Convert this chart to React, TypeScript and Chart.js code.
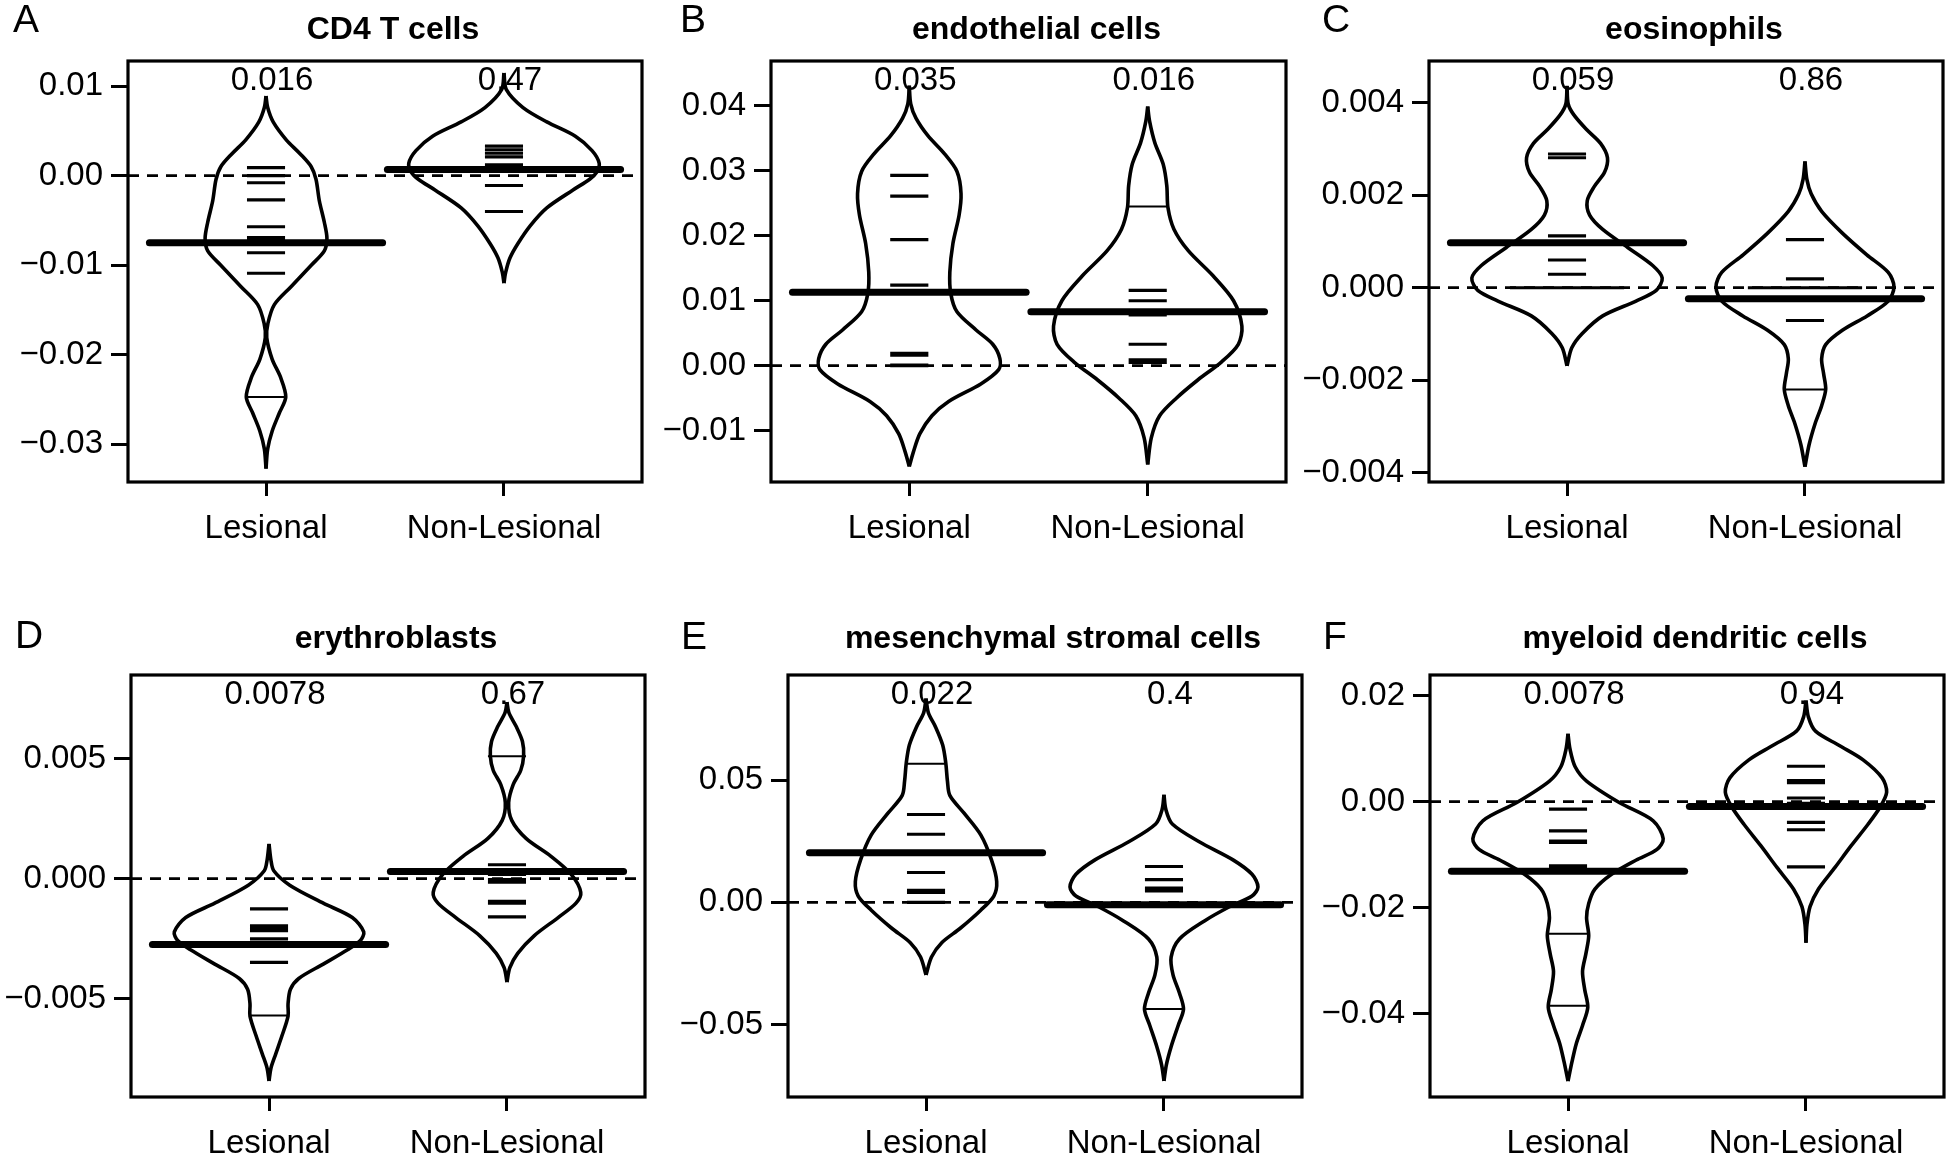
import React, { useEffect, useRef } from 'react';
import { Chart, registerables } from 'chart.js';

Chart.register(...registerables);

const FONT = "'Liberation Sans', Arial, Helvetica, sans-serif";
const groups = ['Lesional', 'Non-Lesional'];
const xRange = [0.42, 2.58];

// ---------- A: CD4 T cells ----------
const cd4Title = 'CD4 T cells';
const cd4P = ['0.016', '0.47'];
const cd4Means = [-0.0075, 0.0007];
const cd4Range = [-0.0342, 0.0128];
const cd4Ticks = [-0.03, -0.02, -0.01, 0, 0.01];
const cd4TickLabels = ['\u22120.03', '\u22120.02', '\u22120.01', '0.00', '0.01'];
const cd4LesObs = [0.0009, 0.0, -0.0008, -0.0027, -0.0057, -0.0069, -0.0072, -0.0086, -0.0109];
const cd4LesThin = [-0.0247];
const cd4NonObs = [0.0033, 0.0029, 0.0025, 0.0021, 0.0012, 0.001, -0.0011, -0.004];
const cd4NonThin: number[] = [];
const cd4LesBean = [[-0.0327, 0], [-0.0305, 0.007], [-0.0285, 0.026], [-0.0265, 0.056], [-0.0247, 0.083], [-0.0225, 0.061], [-0.0205, 0.026], [-0.0181, 0.003], [-0.0165, 0.008], [-0.0144, 0.035], [-0.0124, 0.105], [-0.01, 0.19], [-0.0084, 0.245], [-0.007, 0.256], [-0.0052, 0.245], [-0.0028, 0.224], [-0.0004, 0.21], [0.001, 0.19], [0.0024, 0.145], [0.004, 0.085], [0.006, 0.03], [0.0076, 0.007], [0.0089, 0]];
const cd4NonBean = [[-0.012, 0], [-0.0108, 0.007], [-0.0092, 0.025], [-0.0076, 0.058], [-0.0056, 0.11], [-0.0036, 0.18], [-0.0016, 0.29], [-0.0004, 0.36], [0.0004, 0.39], [0.0014, 0.4], [0.0028, 0.37], [0.0044, 0.3], [0.006, 0.18], [0.0076, 0.08], [0.0096, 0.01], [0.01145, 0]];

// ---------- B: endothelial cells ----------
const endoTitle = 'endothelial cells';
const endoP = ['0.035', '0.016'];
const endoMeans = [0.0113, 0.0083];
const endoRange = [-0.0179, 0.0469];
const endoTicks = [-0.01, 0, 0.01, 0.02, 0.03, 0.04];
const endoTickLabels = ['\u22120.01', '0.00', '0.01', '0.02', '0.03', '0.04'];
const endoLesObs = [0.0293, 0.0261, 0.0194, 0.0124, 0.0019, 0.0016, 0.0001, 0.0];
const endoLesThin: number[] = [];
const endoNonObs = [0.0116, 0.01, 0.0081, 0.0078, 0.0033, 0.0009, 0.0005];
const endoNonThin = [0.0245];
const endoLesBean = [[-0.0155, 0], [-0.0133, 0.017], [-0.0105, 0.044], [-0.0077, 0.095], [-0.0055, 0.165], [-0.0028, 0.3], [-0.0006, 0.375], [0.0011, 0.38], [0.0033, 0.35], [0.0055, 0.28], [0.0083, 0.2], [0.0111, 0.174], [0.0144, 0.17], [0.0188, 0.183], [0.0232, 0.209], [0.0265, 0.217], [0.0299, 0.2], [0.0326, 0.148], [0.0354, 0.078], [0.0381, 0.028], [0.0403, 0.006], [0.0431, 0]];
const endoNonBean = [[-0.0152, 0], [-0.0111, 0.015], [-0.0077, 0.05], [-0.005, 0.12], [-0.0022, 0.21], [0.0006, 0.31], [0.0033, 0.38], [0.0061, 0.395], [0.01, 0.36], [0.0138, 0.275], [0.0177, 0.17], [0.021, 0.11], [0.0243, 0.085], [0.0277, 0.08], [0.031, 0.065], [0.0343, 0.03], [0.0376, 0.008], [0.0399, 0]];

// ---------- C: eosinophils ----------
const eosTitle = 'eosinophils';
const eosP = ['0.059', '0.86'];
const eosMeans = [0.00097, -0.00024];
const eosRange = [-0.0042, 0.0049];
const eosTicks = [-0.004, -0.002, 0, 0.002, 0.004];
const eosTickLabels = ['\u22120.004', '\u22120.002', '0.000', '0.002', '0.004'];
const eosLesObs = [0.00289, 0.00281, 0.00112, 0.0006, 0.00029, 0, 0, 0];
const eosLesThin: number[] = [];
const eosNonObs = [0.00104, 0.00019, 0, 0, 0, -0.00071];
const eosNonThin = [-0.0022];
const eosLesBean = [[-0.00169, 0], [-0.0013, 0.02], [-0.00099, 0.064], [-0.00061, 0.15], [-0.00029, 0.29], [-0.00006, 0.375], [0.00021, 0.4], [0.00048, 0.36], [0.00087, 0.255], [0.00126, 0.15], [0.00157, 0.095], [0.00188, 0.085], [0.00219, 0.115], [0.0025, 0.158], [0.00281, 0.17], [0.00312, 0.141], [0.00343, 0.08], [0.00374, 0.028], [0.00397, 0.005], [0.00436, 0]];
const eosNonBean = [[-0.00387, 0], [-0.0034, 0.017], [-0.00293, 0.043], [-0.00255, 0.07], [-0.0022, 0.087], [-0.00185, 0.078], [-0.00154, 0.07], [-0.00123, 0.087], [-0.00092, 0.157], [-0.00061, 0.261], [-0.00029, 0.35], [0.00002, 0.374], [0.00033, 0.35], [0.00071, 0.26], [0.00118, 0.157], [0.00165, 0.07], [0.00203, 0.026], [0.00234, 0.008], [0.00273, 0]];

// ---------- D: erythroblasts ----------
const eryTitle = 'erythroblasts';
const eryP = ['0.0078', '0.67'];
const eryMeans = [-0.00274, 0.0003];
const eryRange = [-0.0091, 0.00849];
const eryTicks = [-0.005, 0, 0.005];
const eryTickLabels = ['\u22120.005', '0.000', '0.005'];
const eryLesObs = [-0.00126, -0.00196, -0.00207, -0.00217, -0.00251, -0.00349];
const eryLesThin = [-0.0057];
const eryNonObs = [0.00058, 0.00018, -0.00004, -0.00015, -0.00094, -0.00102, -0.00159];
const eryNonThin = [0.0051];
const eryLesBean = [[-0.00843, 0], [-0.0079, 0.008], [-0.00731, 0.028], [-0.00656, 0.054], [-0.00573, 0.08], [-0.00521, 0.08], [-0.00461, 0.09], [-0.00416, 0.125], [-0.00356, 0.228], [-0.00296, 0.33], [-0.00259, 0.383], [-0.00222, 0.398], [-0.00162, 0.35], [-0.00102, 0.228], [-0.00027, 0.087], [0.00033, 0.02], [0.00078, 0.008], [0.00145, 0]];
const eryNonBean = [[-0.00431, 0], [-0.00371, 0.012], [-0.00311, 0.045], [-0.00237, 0.115], [-0.00162, 0.215], [-0.00102, 0.29], [-0.00057, 0.31], [0.00018, 0.27], [0.00093, 0.185], [0.00168, 0.08], [0.00243, 0.02], [0.00317, 0.007], [0.00392, 0.026], [0.00452, 0.058], [0.00512, 0.07], [0.00572, 0.065], [0.00632, 0.04], [0.00692, 0.008], [0.00736, 0]];

// ---------- E: mesenchymal stromal cells ----------
const mscTitle = 'mesenchymal stromal cells';
const mscP = ['0.022', '0.4'];
const mscMeans = [0.0203, -0.001];
const mscRange = [-0.0797, 0.0931];
const mscTicks = [-0.05, 0, 0.05];
const mscTickLabels = ['\u22120.05', '0.00', '0.05'];
const mscLesObs = [0.036, 0.0279, 0.0122, 0.0049, 0.0041, 0.0];
const mscLesThin = [0.0568];
const mscNonObs = [0.0147, 0.0093, 0.0059, 0.0047];
const mscNonThin = [-0.0437];
const mscLesBean = [[-0.0297, 0], [-0.0224, 0.023], [-0.0165, 0.066], [-0.0106, 0.144], [-0.0032, 0.23], [0.0026, 0.285], [0.0085, 0.297], [0.0174, 0.275], [0.0276, 0.23], [0.0365, 0.16], [0.0438, 0.1], [0.0497, 0.09], [0.0571, 0.083], [0.0644, 0.07], [0.0718, 0.04], [0.0776, 0.01], [0.0835, 0]];
const mscNonBean = [[-0.0731, 0], [-0.0665, 0.01], [-0.0591, 0.03], [-0.0503, 0.06], [-0.0437, 0.082], [-0.0371, 0.065], [-0.0297, 0.038], [-0.0224, 0.03], [-0.015, 0.065], [-0.0076, 0.17], [-0.0018, 0.275], [0.0026, 0.37], [0.0063, 0.395], [0.0115, 0.37], [0.0174, 0.29], [0.0247, 0.15], [0.0321, 0.035], [0.038, 0.008], [0.0441, 0]];

// ---------- F: myeloid dendritic cells ----------
const mdcTitle = 'myeloid dendritic cells';
const mdcP = ['0.0078', '0.94'];
const mdcMeans = [-0.0131, -0.0009];
const mdcRange = [-0.0557, 0.0239];
const mdcTicks = [-0.04, -0.02, 0, 0.02];
const mdcTickLabels = ['\u22120.04', '\u22120.02', '0.00', '0.02'];
const mdcLesObs = [-0.0014, -0.0055, -0.0074, -0.0077, -0.0121, -0.0124];
const mdcLesThin = [-0.0249, -0.0385];
const mdcNonObs = [0.0067, 0.004, 0.0036, 0.0007, -0.0003, -0.0039, -0.0053, -0.0123];
const mdcNonThin: number[] = [];
const mdcLesBean = [[-0.0527, 0], [-0.049, 0.017], [-0.0456, 0.035], [-0.0422, 0.061], [-0.0388, 0.083], [-0.0354, 0.07], [-0.032, 0.061], [-0.0287, 0.075], [-0.0253, 0.087], [-0.0219, 0.078], [-0.0192, 0.087], [-0.0165, 0.113], [-0.0137, 0.183], [-0.011, 0.287], [-0.009, 0.374], [-0.007, 0.4], [-0.0036, 0.358], [-0.0002, 0.217], [0.0039, 0.078], [0.0066, 0.03], [0.01, 0.008], [0.0128, 0]];
const mdcNonBean = [[-0.0266, 0], [-0.0232, 0.004], [-0.0198, 0.017], [-0.0165, 0.052], [-0.0124, 0.122], [-0.0083, 0.19], [-0.0043, 0.26], [-0.0009, 0.313], [0.0018, 0.339], [0.0045, 0.32], [0.0079, 0.24], [0.0106, 0.14], [0.0133, 0.04], [0.016, 0.01], [0.0191, 0]];

const panels = [
  { letter: 'A', title: cd4Title, p: cd4P, means: cd4Means, range: cd4Range, ticks: cd4Ticks, tickLabels: cd4TickLabels, beans: [cd4LesBean, cd4NonBean], obs: [cd4LesObs, cd4NonObs], thin: [cd4LesThin, cd4NonThin] },
  { letter: 'B', title: endoTitle, p: endoP, means: endoMeans, range: endoRange, ticks: endoTicks, tickLabels: endoTickLabels, beans: [endoLesBean, endoNonBean], obs: [endoLesObs, endoNonObs], thin: [endoLesThin, endoNonThin] },
  { letter: 'C', title: eosTitle, p: eosP, means: eosMeans, range: eosRange, ticks: eosTicks, tickLabels: eosTickLabels, beans: [eosLesBean, eosNonBean], obs: [eosLesObs, eosNonObs], thin: [eosLesThin, eosNonThin] },
  { letter: 'D', title: eryTitle, p: eryP, means: eryMeans, range: eryRange, ticks: eryTicks, tickLabels: eryTickLabels, beans: [eryLesBean, eryNonBean], obs: [eryLesObs, eryNonObs], thin: [eryLesThin, eryNonThin] },
  { letter: 'E', title: mscTitle, p: mscP, means: mscMeans, range: mscRange, ticks: mscTicks, tickLabels: mscTickLabels, beans: [mscLesBean, mscNonBean], obs: [mscLesObs, mscNonObs], thin: [mscLesThin, mscNonThin] },
  { letter: 'F', title: mdcTitle, p: mdcP, means: mdcMeans, range: mdcRange, ticks: mdcTicks, tickLabels: mdcTickLabels, beans: [mdcLesBean, mdcNonBean], obs: [mdcLesObs, mdcNonObs], thin: [mdcLesThin, mdcNonThin] },
];

// layout (page pixels): canvas rect, plot box, letter & title positions
const layouts = [
  { cx: 0, cy: 0, cw: 650, ch: 580, l: 128, t: 61, r: 642, b: 482, lx: 13, ly: 21, ty: 30 },
  { cx: 650, cy: 0, cw: 650, ch: 580, l: 771, t: 61, r: 1286, b: 482, lx: 680, ly: 21, ty: 30 },
  { cx: 1296, cy: 0, cw: 650, ch: 580, l: 1429, t: 61, r: 1943, b: 482, lx: 1322, ly: 21, ty: 30 },
  { cx: 0, cy: 580, cw: 650, ch: 573, l: 131, t: 675, r: 645, b: 1097, lx: 15, ly: 637, ty: 639 },
  { cx: 650, cy: 580, cw: 655, ch: 573, l: 788, t: 675, r: 1302, b: 1097, lx: 681, ly: 638, ty: 639 },
  { cx: 1296, cy: 580, cw: 650, ch: 573, l: 1430, t: 675, r: 1944, b: 1097, lx: 1323, ly: 638, ty: 639 },
];

const BLACK = '#000';

function lineSegments(values: number[], center: number) {
  const counts = new Map<number, number>();
  values.forEach((v) => counts.set(v, (counts.get(v) || 0) + 1));
  const pts: any[] = [];
  counts.forEach((n, v) => {
    const h = Math.min(0.08 * n, 0.48);
    pts.push({ x: center - h, y: v }, { x: center + h, y: v }, { x: center, y: null });
  });
  return pts;
}

function buildDatasets(d: any) {
  const base = { borderColor: BLACK, pointRadius: 0, pointHoverRadius: 0, fill: false, spanGaps: false };
  const ds: any[] = [];
  ds.push({ ...base, data: [{ x: xRange[0], y: 0 }, { x: xRange[1], y: 0 }], borderWidth: 2.8, borderDash: [11, 8], tension: 0, order: 5 });
  d.beans.forEach((bean: number[][], i: number) => {
    const c = i + 1;
    [-1, 1].forEach((side) => {
      ds.push({ ...base, data: bean.map(([y, w]) => ({ x: c + side * w, y })), borderWidth: 3.6, tension: 0.3, borderJoinStyle: 'round', order: 4 });
    });
    ds.push({ ...base, data: lineSegments(d.obs[i], c), borderWidth: 3.1, tension: 0, order: 3 });
    if (d.thin[i].length) {
      ds.push({ ...base, data: lineSegments(d.thin[i], c), borderWidth: 2, tension: 0, order: 3 });
    }
    ds.push({ ...base, data: [{ x: c - 0.49, y: d.means[i] }, { x: c + 0.49, y: d.means[i] }], borderWidth: 7, borderCapStyle: 'round', tension: 0, order: 2 });
  });
  return ds;
}

function Panel({ d, lay }: { d: any; lay: any }) {
  const ref = useRef<HTMLCanvasElement | null>(null);
  useEffect(() => {
    if (!ref.current) return;
    const deco = {
      id: 'deco' + d.letter,
      afterDraw(chart: any) {
        const { ctx, chartArea: a, scales } = chart;
        ctx.save();
        ctx.strokeStyle = BLACK;
        ctx.lineWidth = 3.2;
        ctx.strokeRect(a.left, a.top, a.right - a.left, a.bottom - a.top);
        ctx.fillStyle = BLACK;
        ctx.textAlign = 'center';
        ctx.textBaseline = 'middle';
        ctx.font = `33px ${FONT}`;
        d.p.forEach((txt: string, i: number) => {
          ctx.fillText(txt, scales.x.getPixelForValue(i + 1) + 6, a.top + 20);
        });
        ctx.font = `bold 32px ${FONT}`;
        ctx.fillText(d.title, (a.left + a.right) / 2 + 8, lay.ty - lay.cy);
        ctx.textAlign = 'left';
        ctx.font = `39px ${FONT}`;
        ctx.fillText(d.letter, lay.lx - lay.cx, lay.ly - lay.cy);
        ctx.restore();
      },
    };
    const tickFont = { family: FONT, size: 33 };
    const chart = new Chart(ref.current, {
      type: 'line',
      data: { datasets: buildDatasets(d) },
      options: {
        animation: false,
        responsive: false,
        maintainAspectRatio: false,
        devicePixelRatio: 1,
        events: [],
        layout: { autoPadding: false, padding: { top: lay.t - lay.cy, right: lay.cx + lay.cw - lay.r, left: 0, bottom: 0 } },
        plugins: { legend: { display: false }, tooltip: { enabled: false }, title: { display: false } },
        scales: {
          x: {
            type: 'linear',
            min: xRange[0],
            max: xRange[1],
            afterBuildTicks: (s: any) => { s.ticks = [{ value: 1 }, { value: 2 }]; },
            afterFit: (s: any) => { s.height = lay.cy + lay.ch - lay.b; },
            ticks: { callback: (v: number) => groups[Math.round(v) - 1], font: tickFont, color: BLACK, padding: 13, autoSkip: false, maxRotation: 0, minRotation: 0 },
            grid: { display: true, drawOnChartArea: false, drawTicks: true, tickLength: 14, tickWidth: 3, tickColor: BLACK },
            border: { display: false },
          },
          y: {
            type: 'linear',
            position: 'left',
            min: d.range[0],
            max: d.range[1],
            afterBuildTicks: (s: any) => { s.ticks = d.ticks.map((v: number) => ({ value: v })); },
            afterFit: (s: any) => { s.width = lay.l - lay.cx; },
            ticks: {
              callback: (v: number) => {
                const k = d.ticks.findIndex((t: number) => Math.abs(t - v) < 1e-12);
                return k >= 0 ? d.tickLabels[k] : '';
              },
              font: tickFont, color: BLACK, padding: 8, autoSkip: false,
            },
            grid: { display: true, drawOnChartArea: false, drawTicks: true, tickLength: 17, tickWidth: 3, tickColor: BLACK },
            border: { display: false },
          },
        },
      } as any,
      plugins: [deco],
    });
    return () => chart.destroy();
  }, [d, lay]);
  return (
    <canvas
      ref={ref}
      width={lay.cw}
      height={lay.ch}
      style={{ position: 'absolute', left: lay.cx, top: lay.cy, width: lay.cw, height: lay.ch }}
    />
  );
}

export default function App() {
  return (
    <div style={{ position: 'fixed', left: 0, top: 0, width: 1946, height: 1153, background: '#fff', overflow: 'hidden' }}>
      {panels.map((d, i) => (
        <Panel key={d.letter} d={d} lay={layouts[i]} />
      ))}
    </div>
  );
}
